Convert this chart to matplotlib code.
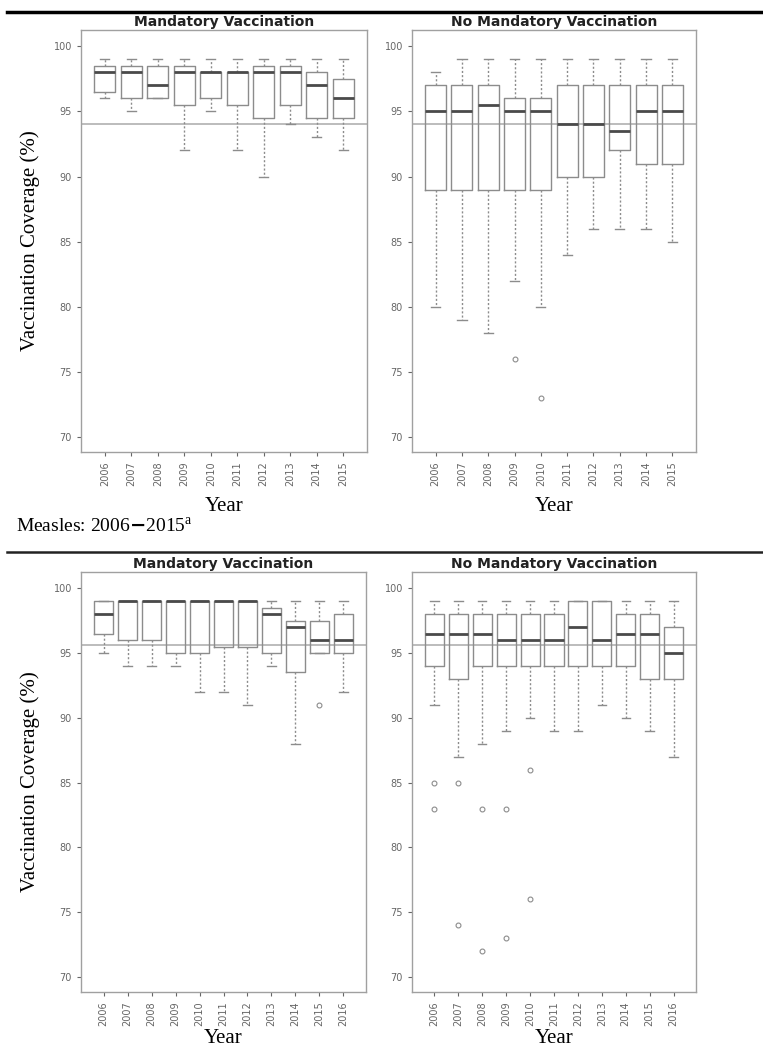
import matplotlib
matplotlib.use("Agg")
import matplotlib.pyplot as plt
from matplotlib.lines import Line2D

plt.rcParams["mathtext.fontset"] = "custom"
plt.rcParams["mathtext.rm"] = "Liberation Serif"

# --- data: (low whisker, Q1, median, Q3, high whisker), outliers per year ---
years_a = [2006, 2007, 2008, 2009, 2010, 2011, 2012, 2013, 2014, 2015]
years_b = [2006, 2007, 2008, 2009, 2010, 2011, 2012, 2013, 2014, 2015, 2016]

# measles, mandatory
ma_low = [96, 95, 96, 92, 95, 92, 90, 94, 93, 92]
ma_q1 = [96.5, 96, 96, 95.5, 96, 95.5, 94.5, 95.5, 94.5, 94.5]
ma_med = [98, 98, 97, 98, 98, 98, 98, 98, 97, 96]
ma_q3 = [98.5, 98.5, 98.5, 98.5, 98, 98, 98.5, 98.5, 98, 97.5]
ma_high = [99, 99, 99, 99, 99, 99, 99, 99, 99, 99]
ma_out = [[], [], [], [], [], [], [], [], [], []]

# measles, no mandatory
na_low = [80, 79, 78, 82, 80, 84, 86, 86, 86, 85]
na_q1 = [89, 89, 89, 89, 89, 90, 90, 92, 91, 91]
na_med = [95, 95, 95.5, 95, 95, 94, 94, 93.5, 95, 95]
na_q3 = [97, 97, 97, 96, 96, 97, 97, 97, 97, 97]
na_high = [98, 99, 99, 99, 99, 99, 99, 99, 99, 99]
na_out = [[], [], [], [76], [73], [], [], [], [], []]

# second block, mandatory
mb_low = [95, 94, 94, 94, 92, 92, 91, 94, 88, 95, 92]
mb_q1 = [96.5, 96, 96, 95, 95, 95.5, 95.5, 95, 93.5, 95, 95]
mb_med = [98, 99, 99, 99, 99, 99, 99, 98, 97, 96, 96]
mb_q3 = [99, 99, 99, 99, 99, 99, 99, 98.5, 97.5, 97.5, 98]
mb_high = [99, 99, 99, 99, 99, 99, 99, 99, 99, 99, 99]
mb_out = [[], [], [], [], [], [], [], [], [], [91], []]

# second block, no mandatory
nb_low = [91, 87, 88, 89, 90, 89, 89, 91, 90, 89, 87]
nb_q1 = [94, 93, 94, 94, 94, 94, 94, 94, 94, 93, 93]
nb_med = [96.5, 96.5, 96.5, 96, 96, 96, 97, 96, 96.5, 96.5, 95]
nb_q3 = [98, 98, 98, 98, 98, 98, 99, 99, 98, 98, 97]
nb_high = [99, 99, 99, 99, 99, 99, 99, 99, 99, 99, 99]
nb_out = [[85, 83], [85, 74], [83, 72], [83, 73], [86, 76], [], [], [], [], [], []]

ref_top = 94.0
ref_bottom = 95.6

GREY = "#8c8c8c"
DARK = "#4a4a4a"
SERIF = "Liberation Serif"


def stats(low, q1, med, q3, high, out):
    return [
        dict(whislo=a, q1=b, med=c, q3=d, whishi=e, fliers=f)
        for a, b, c, d, e, f in zip(low, q1, med, q3, high, out)
    ]


def draw(ax, st, years, ref, title, pad):
    n = len(years)
    ax.bxp(
        st,
        positions=range(1, n + 1),
        widths=0.8,
        showfliers=True,
        boxprops=dict(color=GREY, linewidth=1.0),
        medianprops=dict(color=DARK, linewidth=2.0),
        whiskerprops=dict(color=GREY, linewidth=1.0, linestyle=(0, (1.5, 1.5))),
        capprops=dict(color=GREY, linewidth=1.0),
        capwidths=0.35,
        flierprops=dict(marker="o", markersize=3.5, markerfacecolor="none",
                        markeredgecolor=GREY, markeredgewidth=0.8),
    )
    ax.axhline(ref, color="#b0b0b0", linewidth=1.2, zorder=0)
    ax.set_xlim(0.5 - 0.04 * n, n + 0.5 + 0.04 * n)
    ax.set_ylim(68.85, 101.25)
    ax.set_yticks([70, 75, 80, 85, 90, 95, 100])
    ax.set_xticks(range(1, n + 1))
    ax.set_xticklabels([str(y) for y in years], rotation=90)
    ax.tick_params(colors="#666666", labelsize=7, length=3, width=0.8,
                   labelcolor="#666666")
    for s in ax.spines.values():
        s.set_color("#a0a0a0")
        s.set_linewidth(1.0)
    ax.set_title(title, fontsize=10, fontweight="bold", color="#222222", pad=3)
    ax.set_xlabel("Year", family=SERIF, fontsize=15, labelpad=pad)


W, H = 763, 1050
fig = plt.figure(figsize=(W / 100, H / 100), dpi=100)


def add_axes(x0, top, w, bottom):
    return fig.add_axes([x0 / W, 1 - bottom / H, w / W, (bottom - top) / H])


ax1 = add_axes(81, 30, 286, 452)
ax2 = add_axes(412, 30, 284, 452)
ax3 = add_axes(81, 572, 285, 992)
ax4 = add_axes(412, 572, 284, 992)

draw(ax1, stats(ma_low, ma_q1, ma_med, ma_q3, ma_high, ma_out), years_a,
     ref_top, "Mandatory Vaccination", 8)
draw(ax2, stats(na_low, na_q1, na_med, na_q3, na_high, na_out), years_a,
     ref_top, "No Mandatory Vaccination", 8)
draw(ax3, stats(mb_low, mb_q1, mb_med, mb_q3, mb_high, mb_out), years_b,
     ref_bottom, "Mandatory Vaccination", 2)
draw(ax4, stats(nb_low, nb_q1, nb_med, nb_q3, nb_high, nb_out), years_b,
     ref_bottom, "No Mandatory Vaccination", 2)

# y labels
fig.text(30 / W, 1 - 241 / H, "Vaccination Coverage (%)", family=SERIF,
         fontsize=15, rotation=90, ha="center", va="center")
fig.text(30 / W, 1 - 782 / H, "Vaccination Coverage (%)", family=SERIF,
         fontsize=15, rotation=90, ha="center", va="center")

fig.text(16 / W, 1 - 527 / H, r"Measles: 2006$\mathbf{-}$2015$^{\mathrm{a}}$",
         family=SERIF, fontsize=14, ha="left", va="center")

# separator rules
fig.add_artist(Line2D([7 / W, 1], [1 - 12 / H, 1 - 12 / H], color="black",
                      linewidth=2.5))
fig.add_artist(Line2D([7 / W, 1], [1 - 552 / H, 1 - 552 / H], color="#222222",
                      linewidth=1.8))

fig.savefig("out.png", dpi=100)
